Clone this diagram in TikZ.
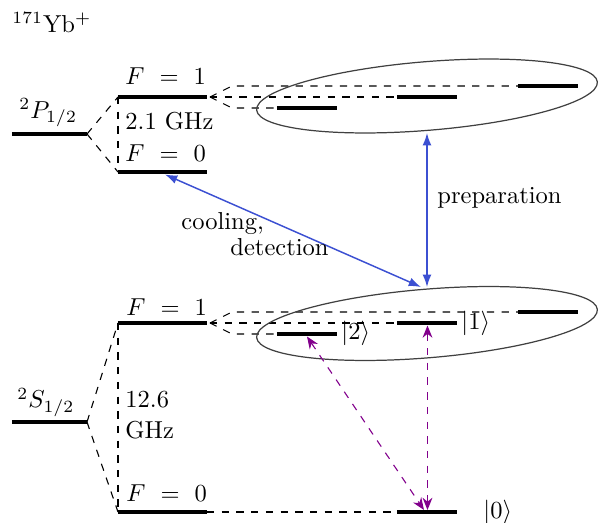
\documentclass[tikz,border=0pt]{standalone}
\usetikzlibrary{shapes.geometric,arrows.meta}
\definecolor{lblue}{RGB}{60,80,210}
\definecolor{lpurple}{RGB}{130,0,140}
\begin{document}
\begin{tikzpicture}[x=0.408pt,y=-0.408pt,
  level/.style={line width=1.9pt},
  split/.style={dashed, line width=0.45pt},
  lab/.style={inner sep=0pt, anchor=base west},
  ket/.style={inner sep=0pt, anchor=west},
  cloud/.style={draw=black!75, ellipse, line width=0.5pt, minimum width=139.5pt, minimum height=28pt, rotate=4.7, inner sep=0pt},
  laser/.style={lblue, line width=0.6pt, {Latex[length=5pt,width=3.6pt]}-{Latex[length=5pt,width=3.6pt]}},
  mw/.style={lpurple, dashed, line width=0.45pt, {Stealth[length=5pt,width=4pt]}-{Stealth[length=5pt,width=4pt]}}]
\useasboundingbox (0,0) rectangle (598,523);

% ---------- P manifold
\coordinate (PL) at (12,134);  \coordinate (PR) at (87,134);
\coordinate (P1L) at (118,97); \coordinate (P1R) at (207,97);
\coordinate (P0L) at (118,172); \coordinate (P0R) at (207,172);
\coordinate (Pa1) at (277,108); \coordinate (Pa2) at (337,108);
\coordinate (Pb1) at (397,97);  \coordinate (Pb2) at (457,97);
\coordinate (Pc1) at (518,86);  \coordinate (Pc2) at (578,86);
\coordinate (Pf) at (210,97); \coordinate (Pfu) at (232,86); \coordinate (Pfd) at (232,108);

\draw[split] (PR) -- (P1L);
\draw[split] (PR) -- (P0L);
\draw[split] (P1L) -- (P0L);
\draw[split] (Pf) -- (Pfu) -- (Pc1);
\draw[split] (Pf) -- (Pb1);
\draw[split] (Pf) -- (Pfd) -- (Pa1);
\draw[level] (PL) -- (PR);
\draw[level] (P1L) -- (P1R);
\draw[level] (P0L) -- (P0R);
\draw[level] (Pa1) -- (Pa2);
\draw[level] (Pb1) -- (Pb2);
\draw[level] (Pc1) -- (Pc2);
\node[cloud] (EP) at (427,96) {};

% ---------- S manifold
\coordinate (SL) at (12,422);  \coordinate (SR) at (87,422);
\coordinate (S1L) at (118,323); \coordinate (S1R) at (207,323);
\coordinate (S0L) at (118,512); \coordinate (S0R) at (207,512);
\coordinate (Sa1) at (277,334); \coordinate (Sa2) at (337,334);
\coordinate (Sb1) at (397,323); \coordinate (Sb2) at (457,323);
\coordinate (Sc1) at (518,312); \coordinate (Sc2) at (578,312);
\coordinate (Z1) at (397,512); \coordinate (Z2) at (457,512);
\coordinate (Sf) at (210,323); \coordinate (Sfu) at (232,312); \coordinate (Sfd) at (232,334);

\draw[split] (SR) -- (S1L);
\draw[split] (SR) -- (S0L);
\draw[split] (S1L) -- (S0L);
\draw[split] (Sf) -- (Sfu) -- (Sc1);
\draw[split] (Sf) -- (Sb1);
\draw[split] (Sf) -- (Sfd) -- (Sa1);
\draw[split] (S0R) -- (Z1);
\draw[level] (SL) -- (SR);
\draw[level] (S1L) -- (S1R);
\draw[level] (S0L) -- (S0R);
\draw[level] (Sa1) -- (Sa2);
\draw[level] (Sb1) -- (Sb2);
\draw[level] (Sc1) -- (Sc2);
\draw[level] (Z1) -- (Z2);
\node[cloud] (ES) at (427,323.5) {};

% ---------- transitions
\coordinate (EPb) at (427,133);
\coordinate (ESt) at (427,287);
\coordinate (ESt2) at (421,287);
\coordinate (CD) at (165,174.5);
\draw[laser] (ESt) -- (EPb);
\draw[laser] (CD) -- (ESt2);

\coordinate (K1) at (427.5,325.5);
\coordinate (K0) at (427.5,510);
\coordinate (K2) at (307,336.5);
\coordinate (K0b) at (424,510);
\draw[mw] (K1) -- (K0);
\draw[mw] (K2) -- (K0b);

% ---------- labels
\node[lab] (ion) at (12,32) {$^{171}$Yb$^+$};
\node[lab] (Plab) at (19,118) {$^2P_{1/2}$};
\node[lab] (P1lab) at (125,84) {$F~=~1$};
\node[lab] (Pghz) at (125,129) {2.1 GHz};
\node[lab] (P0lab) at (125,161) {$F~=~0$};
\node[lab] (Slab) at (17,408) {$^2S_{1/2}$};
\node[lab] (S1lab) at (126,316) {$F~=~1$};
\node[lab] (Sghz1) at (125,408) {12.6};
\node[lab] (Sghz2) at (125,438) {GHz};
\node[lab] (S0lab) at (126,502) {$F~=~0$};
\node[ket] (k2) at (341,333) {$|2\rangle$};
\node[ket] (k1) at (461,323) {$|1\rangle$};
\node[ket] (k0) at (483,512) {$|0\rangle$};
\node[lab] (prep) at (437,203) {preparation};
\node[lab] (cool) at (181,229) {cooling,};
\node[lab] (det) at (230,256) {detection};
\end{tikzpicture}
\end{document}
